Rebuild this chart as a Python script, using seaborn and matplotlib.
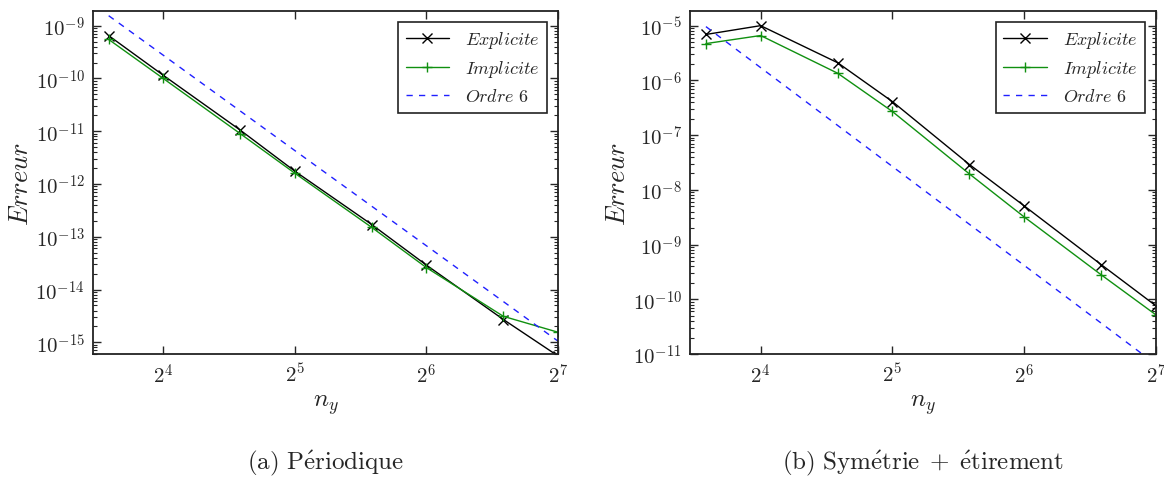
import numpy as np
import pandas as pd
import matplotlib
matplotlib.use("Agg")
import matplotlib.pyplot as plt
import matplotlib.ticker as mticker
import seaborn as sns

# ---------------- data ----------------
ny = [12, 16, 24, 32, 48, 64, 96, 128]

per_explicite = [6.5e-10, 1.15e-10, 1.05e-11, 1.75e-12, 1.7e-13, 2.9e-14, 2.7e-15, 5.5e-16]
per_implicite = [5.5e-10, 1.0e-10, 9.0e-12, 1.6e-12, 1.5e-13, 2.6e-14, 3.1e-15, 1.55e-15]
per_ordre6 = [1.55e-9, 2.76e-10, 2.42e-11, 4.3e-12, 3.78e-13, 6.74e-14, 5.9e-15, 1.05e-15]

sym_explicite = [6.9e-6, 1.0e-5, 2.1e-6, 4.1e-7, 2.9e-8, 5.1e-9, 4.3e-10, 7.6e-11]
sym_implicite = [4.7e-6, 6.6e-6, 1.35e-6, 2.7e-7, 1.95e-8, 3.2e-9, 2.8e-10, 5.2e-11]
sym_ordre6 = [9.6e-6, 1.71e-6, 1.5e-7, 2.67e-8, 2.34e-9, 4.17e-10, 3.66e-11, 6.5e-12]

xticks = [16, 32, 64, 128]
xticklabels = [r"$2^4$", r"$2^5$", r"$2^6$", r"$2^7$"]
series_labels = [r"$Explicite$", r"$Implicite$", r"$Ordre\ 6$"]
captions = [r"$\mathrm{(a)\ P\acute{e}riodique}$",
            r"$\mathrm{(b)\ Sym\acute{e}trie\;+\;\acute{e}tirement}$"]

# ---------------- style ----------------
sns.set_style("ticks")
plt.rcParams.update({
    "mathtext.fontset": "cm",
    "font.family": ["DejaVu Serif"],
    "xtick.direction": "in",
    "ytick.direction": "in",
    "xtick.top": True,
    "ytick.right": True,
    "axes.linewidth": 1.3,
    "axes.edgecolor": "#222222",
    "xtick.major.size": 6,
    "ytick.major.size": 6,
    "ytick.minor.size": 3,
    "xtick.major.width": 1.0,
    "ytick.major.width": 1.0,
    "ytick.minor.width": 0.8,
})

fig = plt.figure(figsize=(11.64, 4.81), dpi=100)
ax1 = fig.add_axes([0.0799, 0.262, 0.3995, 0.713])
ax2 = fig.add_axes([0.593, 0.262, 0.400, 0.713])

panels = [
    (ax1, per_explicite, per_implicite, per_ordre6, (6.0e-16, 1.9e-9)),
    (ax2, sym_explicite, sym_implicite, sym_ordre6, (1e-11, 1.85e-5)),
]

def yfmt(v, pos):
    e = int(round(np.log10(v)))
    return r"$10^{%d}$" % e

for i, (ax, ex, im, o6, ylim) in enumerate(panels):
    ax.set_xscale("log", base=2)
    ax.set_yscale("log")
    df = pd.DataFrame({"ny": ny, "ex": ex, "im": im, "o6": o6})
    sns.lineplot(data=df, x="ny", y="ex", ax=ax, color="black", lw=1.0,
                 marker="x", markersize=6.5, markeredgecolor="black",
                 markeredgewidth=1.0, label=series_labels[0])
    sns.lineplot(data=df, x="ny", y="im", ax=ax, color="#109010", lw=1.0,
                 marker="+", markersize=7.5, markeredgecolor="#109010",
                 markeredgewidth=1.0, label=series_labels[1])
    sns.lineplot(data=df, x="ny", y="o6", ax=ax, color="#2020ff", lw=1.0,
                 linestyle=(0, (4.5, 4.5)), label=series_labels[2])
    ax.set_xlim(11.05, 128)
    ax.set_ylim(*ylim)
    ax.xaxis.set_major_locator(mticker.FixedLocator(xticks))
    ax.xaxis.set_major_formatter(mticker.FixedFormatter(xticklabels))
    ax.xaxis.set_minor_locator(mticker.NullLocator())
    ax.yaxis.set_major_locator(mticker.LogLocator(base=10, numticks=20))
    ax.yaxis.set_minor_locator(mticker.LogLocator(base=10, subs=np.arange(2, 10), numticks=20))
    ax.yaxis.set_major_formatter(mticker.FuncFormatter(yfmt))
    ax.yaxis.set_minor_formatter(mticker.NullFormatter())
    ax.tick_params(axis="both", which="major", labelsize=15, pad=6)
    ax.set_xlabel(r"$n_y$", fontsize=18, labelpad=4)
    ax.set_ylabel(r"$Erreur$", fontsize=19, labelpad=2)
    leg = ax.legend(loc="upper right", fontsize=13, frameon=True, fancybox=False,
                    edgecolor="#222222", framealpha=1, handlelength=2.4,
                    borderpad=0.4, labelspacing=0.45, handletextpad=0.9,
                    borderaxespad=0.6)
    leg.get_frame().set_linewidth(1.2)
    for s in ax.spines.values():
        s.set_visible(True)
    cx = (ax.get_position().x0 + ax.get_position().x1) / 2
    fig.text(cx, 0.037, captions[i], ha="center", va="center", fontsize=18)

fig.savefig("out.png", dpi=100)
